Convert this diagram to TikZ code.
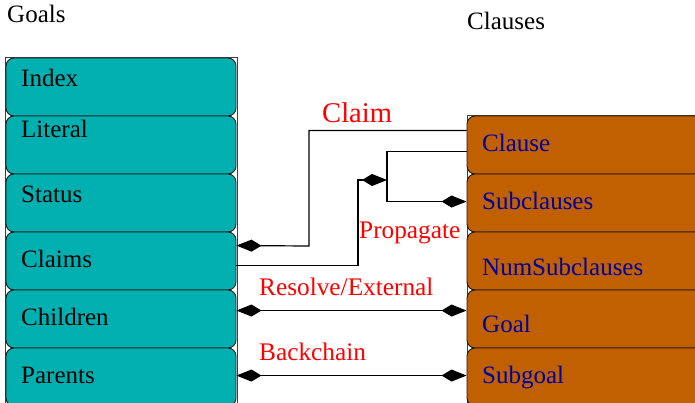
\documentclass[tikz,border=0pt]{standalone}
\usepackage{fontspec}
\setmainfont{Liberation Serif}
\usetikzlibrary{arrows.meta,calc}
\definecolor{goalfill}{RGB}{0,176,176}
\definecolor{clausefill}{RGB}{192,96,0}
\definecolor{clausetext}{RGB}{0,0,160}
\tikzset{
  goalbox/.style={draw=black!90, fill=goalfill, rounded corners=8pt, minimum width=230pt, minimum height=58pt, inner sep=0pt, line width=0.9pt},
  clausebox/.style={draw=black!90, fill=clausefill, rounded corners=8pt, minimum width=236pt, minimum height=58pt, inner sep=0pt, line width=0.9pt},
  outerframe/.style={draw=black!75, line width=0.9pt},
  fieldtxt/.style={anchor=base west, inner sep=0pt, font=\fontsize{25}{30}\selectfont},
  clausetxt/.style={fieldtxt, text=clausetext},
  headtxt/.style={anchor=base west, inner sep=0pt, font=\fontsize{25}{30}\selectfont},
  reltxt/.style={anchor=base west, inner sep=0pt, text=red, font=\fontsize{25.3}{30}\selectfont},
  conn/.style={line width=1.2pt, draw=black, >={Kite[length=25pt,width=12pt,inset=10pt]}}
}
\begin{document}
\begin{tikzpicture}[x=1pt,y=-1pt]
\useasboundingbox (0,0) rectangle (695,403);
\clip (0,0) rectangle (695,403);
% headers
\node[headtxt] (hgoals) at (7,23) {Goals};
\node[headtxt] (hclauses) at (467,30) {Clauses};
% outer frames
\draw[outerframe] (5,420) -- (5,57.5) -- (237,57.5) -- (237,420);
\draw[outerframe] (467,420) -- (467,115.5) -- (700,115.5);
% goal boxes
\node[goalbox] (g1) at (121,87) {};
\node[goalbox] (g2) at (121,145) {};
\node[goalbox] (g3) at (121,203) {};
\node[goalbox] (g4) at (121,261) {};
\node[goalbox] (g5) at (121,319) {};
\node[goalbox] (g6) at (121,377) {};
\node[fieldtxt] (t1) at (21,87) {Index};
\node[fieldtxt] (t2) at (21,138) {Literal};
\node[fieldtxt] (t3) at (21,203) {Status};
\node[fieldtxt] (t4) at (21,267) {Claims};
\node[fieldtxt] (t5) at (21,325) {Children};
\node[fieldtxt] (t6) at (21,383) {Parents};
% clause boxes
\node[clausebox] (c1) at (585,145) {};
\node[clausebox] (c2) at (585,203) {};
\node[clausebox] (c3) at (585,261) {};
\node[clausebox] (c4) at (585,319) {};
\node[clausebox] (c5) at (585,377) {};
\node[clausetxt] (u1) at (482,152) {Clause};
\node[clausetxt] (u2) at (482,210) {Subclauses};
\node[clausetxt] (u3) at (482,275) {NumSubclauses};
\node[clausetxt] (u4) at (482,332) {Goal};
\node[clausetxt] (u5) at (482,383) {Subgoal};
% relation labels
\node[reltxt, font=\fontsize{28.6}{32}\selectfont] (lclaim) at (322,123) {Claim};
\node[reltxt] (lprop) at (359,238) {Propagate};
\node[reltxt] (lres) at (259,295) {Resolve/External};
\node[reltxt] (lback) at (259,360) {Backchain};
% junction
\coordinate (jn) at (387,180);
% connectors
\draw[conn,->] ($(c1.north west)+(0,15)$) -| (309,246) -- ($(g4.north east)+(0,14)$);
\draw[conn,->] ($(g4.north east)+(0,34)$) -| (358,180) -- (jn);
\draw[conn,->] ($(c1.north west)+(0,36)$) -| (jn) |- ($(c2.north west)+(0,28)$);
\draw[conn,<->] ($(g5.north east)+(0,21)$) -- ($(c4.north west)+(0,21)$);
\draw[conn,<->] ($(g6.north east)+(0,28)$) -- ($(c5.north west)+(0,28)$);
\end{tikzpicture}
\end{document}
